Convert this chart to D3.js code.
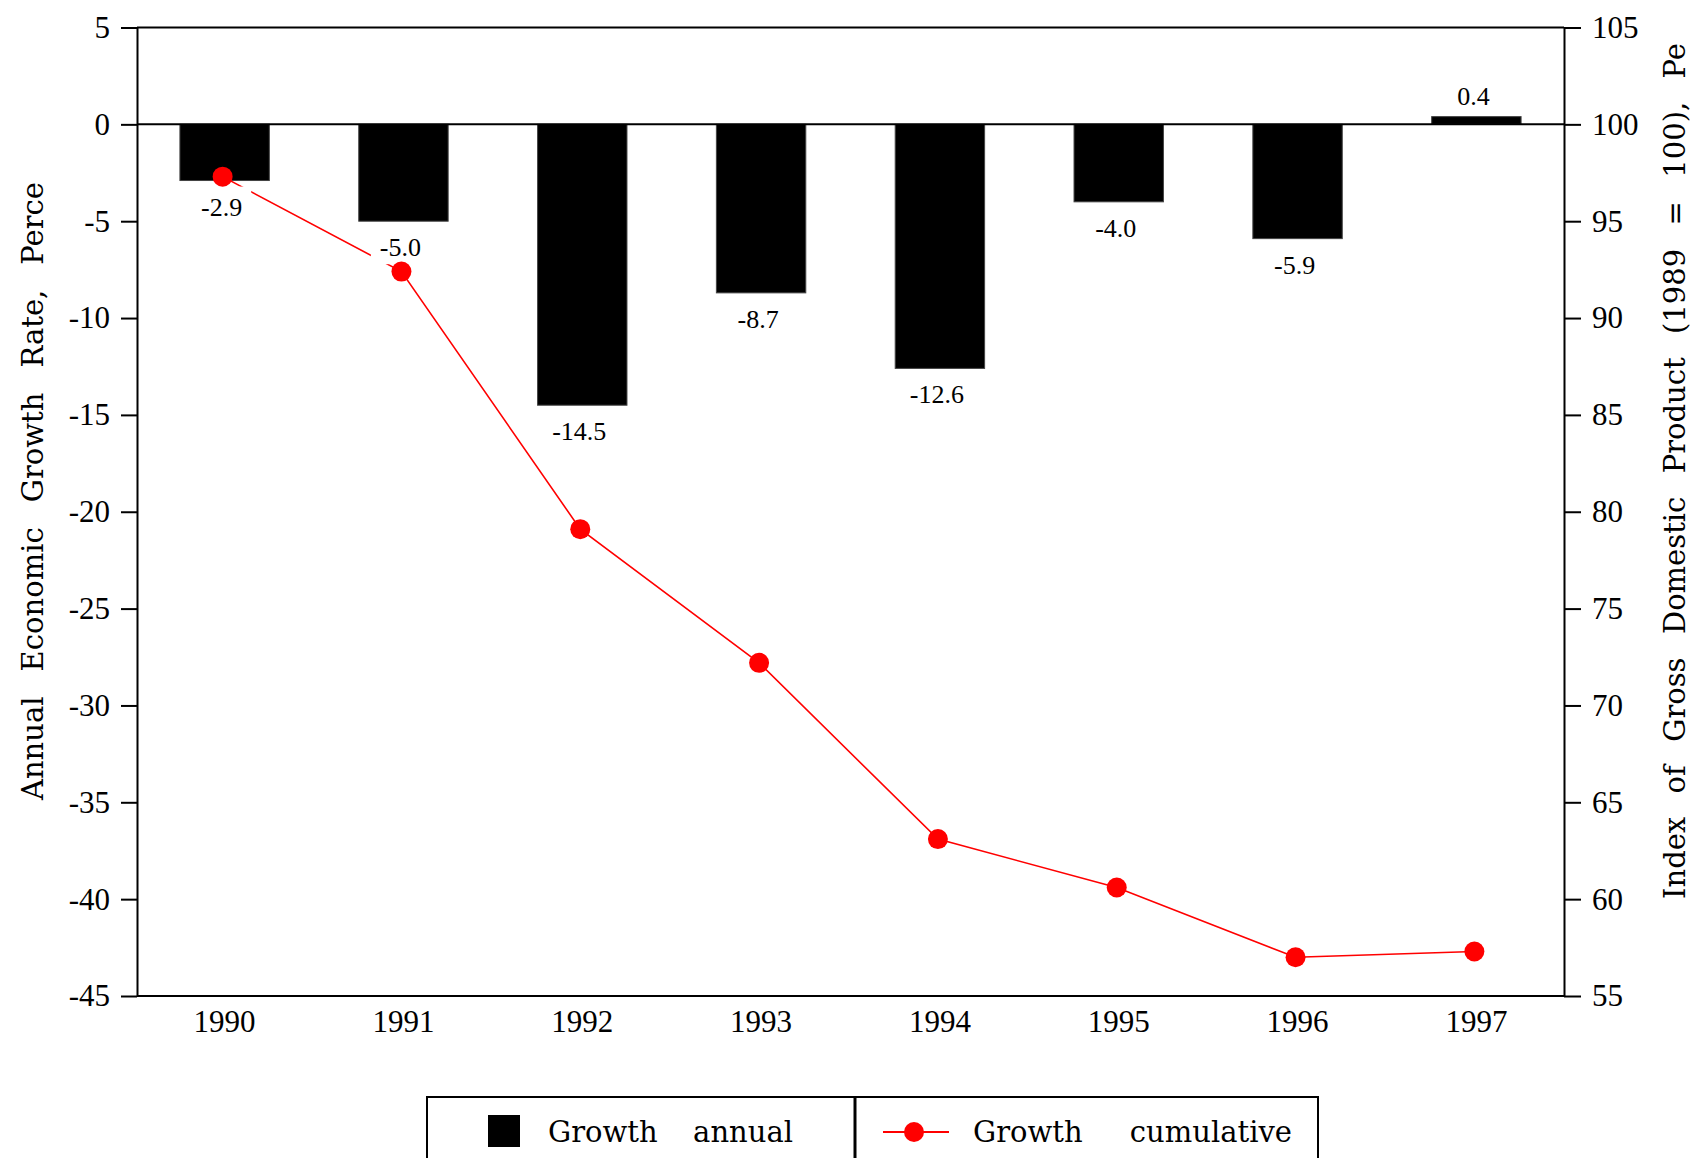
<!DOCTYPE html>
<html><head><meta charset="utf-8">
<script src="https://cdn.jsdelivr.net/npm/d3@7"></script>
<style>
body{margin:0;background:#fff}
svg{display:block}
text{fill:#000}
</style>
</head><body>
<svg id="chart" width="1694" height="1158"></svg>
<script>
// ---- data ----
const years = ["1990","1991","1992","1993","1994","1995","1996","1997"];
const annualGrowth = [-2.9,-5.0,-14.5,-8.7,-12.6,-4.0,-5.9,0.4];
const annualLabels = ["-2.9","-5.0","-14.5","-8.7","-12.6","-4.0","-5.9","0.4"];
const cumulativeIndex = [97.3,92.4,79.1,72.2,63.1,60.6,57.0,57.3];
const leftTicks = [5,0,-5,-10,-15,-20,-25,-30,-35,-40,-45];
const rightTicks = [105,100,95,90,85,80,75,70,65,60,55];
const leftTitle = "Annual Economic Growth Rate, Perce";
const rightTitle = "Index of Gross Domestic Product (1989 = 100), Pe";
const legendLabels = ["Growth annual","Growth cumulative"];

// ---- layout ----
const L = 137, R = 1564, T = 27.5, B = 996;
const NUM_FONT = "'Liberation Serif', serif";
const TXT_FONT = "'DejaVu Serif', serif";
const RED = "#ff0000";

const svg = d3.select("#chart");

const x = d3.scaleBand().domain(years).range([L, R]).paddingInner(0.5).paddingOuter(0.24);
const yL = d3.scaleLinear().domain([-45, 5]).range([B, T]);
const yR = d3.scaleLinear().domain([55, 105]).range([B, T]);

// bars
svg.append("g").selectAll("rect").data(annualGrowth).join("rect")
  .attr("x", (d, i) => x(years[i]))
  .attr("width", x.bandwidth())
  .attr("y", d => yL(Math.max(0, d)))
  .attr("height", d => Math.abs(yL(d) - yL(0)))
  .attr("fill", "#000").attr("stroke", "#444").attr("stroke-width", 1);

// zero line
svg.append("line").attr("x1", L).attr("x2", R).attr("y1", yL(0)).attr("y2", yL(0))
  .attr("stroke", "#000").attr("stroke-width", 2);

// frame: top & bottom
svg.append("line").attr("x1", L).attr("x2", R).attr("y1", T).attr("y2", T).attr("stroke", "#000").attr("stroke-width", 2);
svg.append("line").attr("x1", L).attr("x2", R).attr("y1", B).attr("y2", B).attr("stroke", "#000").attr("stroke-width", 2);

// left axis
const fmt = d => String(d);
const gl = svg.append("g").attr("transform", `translate(${L},0)`);
gl.call(d3.axisLeft(yL).tickValues(d3.range(-45, 6, 1)).tickSize(9).tickFormat("").tickSizeOuter(0));
gl.call(d3.axisLeft(yL).tickValues(leftTicks).tickSize(16).tickPadding(11).tickFormat(fmt).tickSizeOuter(0));
// right axis
const gr = svg.append("g").attr("transform", `translate(${R},0)`);
gr.call(d3.axisRight(yR).tickValues(d3.range(55, 106, 1)).tickSize(9).tickFormat("").tickSizeOuter(0));
gr.call(d3.axisRight(yR).tickValues(rightTicks).tickSize(17).tickPadding(11).tickFormat(fmt).tickSizeOuter(0));
[gl, gr].forEach(g => {
  g.selectAll("path.domain").attr("stroke", "#000").attr("stroke-width", 2);
  g.selectAll("line").attr("stroke", "#000").attr("stroke-width", 2);
  g.selectAll("text").attr("font-family", NUM_FONT).attr("font-size", 31).attr("fill", "#000");
});

// bottom axis (labels only)
const gb = svg.append("g").attr("transform", `translate(0,${B})`);
gb.call(d3.axisBottom(x).tickSize(0).tickPadding(14));
gb.select("path.domain").remove();
gb.selectAll("text").attr("font-family", NUM_FONT).attr("font-size", 31).attr("fill", "#000");

// cumulative line
const px = (d, i) => x(years[i]) + x.bandwidth() / 2 - 2;
const line = d3.line().x((d, i) => px(d, i)).y(d => yR(d));
svg.append("path").datum(cumulativeIndex).attr("d", line)
  .attr("fill", "none").attr("stroke", RED).attr("stroke-width", 1.6);

// value labels with white background
const lg = svg.append("g");
annualGrowth.forEach((v, i) => {
  const cx = x(years[i]) + x.bandwidth() / 2 - 3;
  const by = v < 0 ? yL(v) + 35 : yL(v) - 12;
  const bg = lg.append("rect").attr("fill", "#fff");
  const t = lg.append("text").attr("x", cx).attr("y", by).attr("text-anchor", "middle")
    .attr("font-family", NUM_FONT).attr("font-size", 26).text(annualLabels[i]);
  const bb = t.node().getBBox();
  bg.attr("x", bb.x - 9).attr("y", bb.y - 6).attr("width", bb.width + 18).attr("height", bb.height + 8);
});

// dots
svg.append("g").selectAll("circle").data(cumulativeIndex).join("circle")
  .attr("cx", (d, i) => px(d, i)).attr("cy", d => yR(d)).attr("r", 10).attr("fill", RED);

// fit helper: stretch word gaps to reach target length
function fitWords(sel, target) {
  const w = sel.node().getComputedTextLength();
  const n = (sel.text().match(/ /g) || []).length;
  if (n > 0) sel.attr("word-spacing", (target - w) / n);
}

// axis titles
const lt = svg.append("text").attr("transform", "translate(33,800) rotate(-90)")
  .attr("dy", "0.36em").attr("font-family", TXT_FONT).attr("font-size", 29).text(leftTitle);
fitWords(lt, 618);
const rt = svg.append("text").attr("transform", "translate(1675,899) rotate(-90)")
  .attr("dy", "0.36em").attr("font-family", TXT_FONT).attr("font-size", 29).text(rightTitle);
fitWords(rt, 856);

// legend
const leg = svg.append("g");
leg.append("rect").attr("x", 427).attr("y", 1097).attr("width", 891).attr("height", 100)
  .attr("fill", "none").attr("stroke", "#000").attr("stroke-width", 2);
leg.append("line").attr("x1", 855).attr("x2", 855).attr("y1", 1097).attr("y2", 1197)
  .attr("stroke", "#000").attr("stroke-width", 3);
leg.append("rect").attr("x", 488).attr("y", 1115).attr("width", 32).attr("height", 32).attr("fill", "#000");
const l1 = leg.append("text").attr("x", 548).attr("y", 1142).attr("font-family", TXT_FONT).attr("font-size", 29).text(legendLabels[0]);
fitWords(l1, 245);
leg.append("line").attr("x1", 883).attr("x2", 949).attr("y1", 1132).attr("y2", 1132).attr("stroke", RED).attr("stroke-width", 2);
leg.append("circle").attr("cx", 914).attr("cy", 1132).attr("r", 10).attr("fill", RED);
const l2 = leg.append("text").attr("x", 973).attr("y", 1142).attr("font-family", TXT_FONT).attr("font-size", 29).text(legendLabels[1]);
fitWords(l2, 319);
</script>
</body></html>
